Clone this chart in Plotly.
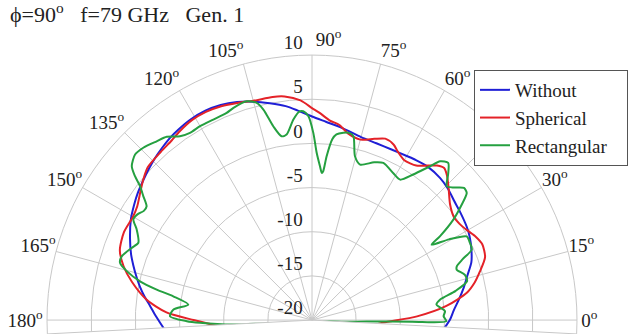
import plotly.graph_objects as go

# ---------------- data ----------------
title_text = "ϕ=90<sup>o</sup>" + "\u00a0" * 3 + "f=79 GHz" + "\u00a0" * 3 + "Gen. 1"

series_names = ["Without", "Spherical", "Rectangular"]
series_colors = ["#1f1fd6", "#e42228", "#25a040"]

theta_without = [-8, -5, 0, 4, 8, 12, 16, 20, 24, 28, 31, 36, 40, 44, 48, 53, 57, 60, 65, 70, 75, 81, 86,
                 90, 94, 97, 101, 105, 109, 113, 117, 121, 125, 128, 131, 134, 137, 140, 144, 147, 151,
                 156, 160, 163, 166, 169, 172, 175, 178, 181, 185, 188]
r_without = [-6.0, -5.3, -4.4, -3.9, -3.2, -2.45, -1.7, -0.8, -0.25, 0.2, 0.45, 0.75, 1.0, 1.4, 1.65, 1.75,
             1.6, 1.45, 1.3, 1.3, 1.45, 2.0, 2.5, 3.05, 3.8, 4.4, 5.0, 5.6, 6.1, 6.45, 6.6, 6.55, 6.35,
             6.15, 5.85, 5.55, 5.2, 4.85, 4.4, 4.0, 3.45, 2.55, 1.8, 1.15, 0.5, -0.15, -0.85, -1.6, -2.2,
             -2.8, -3.5, -4.0]

theta_spherical = [-10, -6, -2, 2, 6, 10, 13, 16, 20, 24, 27, 30, 33, 36, 40, 44, 47, 49, 51, 54, 56, 60,
                   63, 65, 68, 71, 75, 79, 82, 85, 88, 90, 93, 97, 100, 105, 109, 113, 117, 121, 125,
                   128, 132, 137, 140, 143, 147, 150, 155, 160, 164, 168, 173, 177, 180, 183, 186, 189]
r_spherical = [-15.0, -13.5, -11.9, -8.1, -4.7, -2.2, -1.1, -0.25, 0.85, 1.1, 0.8, 0.3, -0.05, -0.15,
               0.4, 1.5, 2.4, 2.8, 2.5, 1.6, 1.1, 0.9, 1.4, 1.9, 2.15, 1.7, 1.15, 1.5, 2.3, 2.7, 3.5,
               4.0, 4.9, 5.5, 5.65, 5.7, 6.0, 6.3, 6.45, 6.4, 6.1, 5.8, 5.6, 5.4, 4.9, 4.3, 3.6, 3.4,
               3.5, 3.15, 2.2, 0.85, -1.15, -3.5, -6.6, -9.0, -11.5, -13.0]

theta_rectangular = [-8.5, -7.4, -6, -3, -1.6, -0.9, -0.5, 1.7, 3.8, 5.5, 7.1, 9.1, 11.5, 14.1, 16.5,
                     19.2, 20.4, 22, 23.8, 26, 28.4, 30.5, 32.2, 33.2, 35.4, 37.5, 39.4, 41, 43, 44.8,
                     47, 49.1, 51.1, 52.5, 55.2, 57.9, 61, 65.6, 68.5, 72.8, 75.3, 77.3, 78.8, 80.5,
                     82.5, 83.6, 84.9, 85.7, 86.2, 87, 88.4, 89.6, 91, 92.4, 93.5, 95.3, 97.8, 99.4,
                     101.3, 103, 104.3, 106.6, 110.3, 112.4, 116.2, 120, 123.1, 125.7, 128.4, 131,
                     134.4, 136.9, 139.5, 140.9, 142.1, 143.7, 145.5, 147, 148.8, 150.6, 152.7, 156,
                     158.2, 161.5, 163.4, 165.2, 167.3, 168.9, 170.3, 172.9, 175.7, 178.5, 180.5,
                     181.4, 183.3, 184.6, 186.2, 188.5]
r_rectangular = [-11.0, -16.0, -18.7, -16.3, -13.8, -8.7, -4.8, -5.1, -4.9, -5.4, -5.8, -5.3, -3.4,
                 -1.9, -1.95, -2.65, -2.5, -1.6, -0.24, -0.1, -0.1, -2.0, -4.0, -2.7, -0.37, 1.3,
                 2.67, 2.8, 2.0, 1.5, 2.6, 3.55, 3.1, 1.95, 0.07, -1.23, -1.0, -0.46, -0.8, -1.58,
                 -0.83, 1.33, 1.6, 1.5, 1.2, 0.6, -1.38, -3.1, -3.3, -2.6, -1.06, 1.19, 3.07, 3.66,
                 3.65, 2.8, 1.19, 1.09, 2.38, 4.46, 5.37, 5.85, 5.62, 5.36, 5.3, 5.34, 5.29, 5.62,
                 6.47, 6.81, 7.3, 7.43, 6.83, 5.82, 4.67, 3.7, 2.72, 2.7, 3.1, 3.21, 2.33, 1.52,
                 1.99, 2.72, 2.68, 1.69, -0.04, -2.08, -4.07, -5.89, -4.25, -3.92, -5.82, -7.3,
                 -11.05, -15.6, -12.1, -9.0]

angle_ticks = list(range(0, 181, 15))
angle_labels = [f"{a}<sup>o</sup>" for a in angle_ticks]
radial_ticks = [-20, -15, -10, -5, 0, 5, 10]
radial_labels = [str(v) for v in radial_ticks]

# ---------------- figure ----------------
FONT = "Liberation Serif"
GRID = "#c8c8c8"
TXT = "#222222"

# the 90 deg label sits to the right of the vertical grid line
angle_text = [("\u00a0" * 7 + t) if a == 90 else t for a, t in zip(angle_ticks, angle_labels)]
inner_ticks = [a for a in angle_ticks if a not in (0, 180)]
inner_text = [t for a, t in zip(angle_ticks, angle_text) if a not in (0, 180)]
main_text = [t if a in (0, 180) else "" for a, t in zip(angle_ticks, angle_text)]

thetas = [theta_without, theta_spherical, theta_rectangular]
rs = [r_without, r_spherical, r_rectangular]

fig = go.Figure()
for name, th, rr, col in zip(series_names, thetas, rs, series_colors):
    fig.add_trace(go.Scatterpolar(
        theta=th, r=rr, mode="lines", name=name + "\u00a0\u00a0\u00a0",
        line=dict(color=col, width=2, shape="spline", smoothing=0.7),
        cliponaxis=False,
    ))
# empty traces hosting the label layers
fig.add_trace(go.Scatterpolar(theta=[], r=[], subplot="polar2", showlegend=False, hoverinfo="skip"))
fig.add_trace(go.Scatterpolar(theta=[], r=[], subplot="polar3", showlegend=False, hoverinfo="skip"))

# ---- geometry (pixels) ----
W, H = 628, 334
SIZE_W, SIZE_H = 530, 279          # bounding box of the polar sector
MAIN_X0, MAIN_Y0 = 47, 55          # top-left of main polar box
RAD_DX, RAD_DY = 6, 12             # radial label layer offset (left, up)
ANG_DY = 5                         # angular label layer offset (up)
L, T = MAIN_X0 - RAD_DX, MAIN_Y0 - RAD_DY
R, B = W - (MAIN_X0 + SIZE_W), 0
PW, PH = W - L - R, H - T - B


def dom(x0, y0):
    return dict(x=[(x0 - L) / PW, (x0 + SIZE_W - L) / PW],
                y=[(H - B - (y0 + SIZE_H)) / PH, (H - B - y0) / PH])


common_sector = [-3, 183]
tick_font = dict(family=FONT, size=19, color=TXT)

fig.update_layout(
    width=W, height=H,
    margin=dict(l=L, r=R, t=T, b=B),
    paper_bgcolor="white",
    font=dict(family=FONT, size=19, color=TXT),
    title=dict(text=title_text, x=10 / W, xanchor="left", y=1 - 7 / H, yanchor="top",
               font=dict(family=FONT, size=22, color=TXT)),
    showlegend=True,
    legend=dict(x=(474 - L) / PW, y=(H - 70) / PH, xanchor="left", yanchor="top",
                bgcolor="white", bordercolor="#555555", borderwidth=1,
                font=dict(family=FONT, size=19, color=TXT)),
    polar=dict(
        domain=dom(MAIN_X0, MAIN_Y0),
        sector=common_sector,
        bgcolor="white",
        angularaxis=dict(
            rotation=0, direction="counterclockwise",
            tickmode="array", tickvals=angle_ticks, ticktext=main_text,
            showgrid=True, gridcolor=GRID, gridwidth=1,
            showline=True, linecolor=GRID, linewidth=1, ticks="",
            tickfont=tick_font,
        ),
        radialaxis=dict(
            range=[-20, 10], tickmode="array", tickvals=radial_ticks,
            angle=90, showticklabels=False,
            showgrid=True, gridcolor=GRID, gridwidth=1, showline=False, ticks="",
        ),
    ),
    polar3=dict(
        domain=dom(MAIN_X0, MAIN_Y0 - ANG_DY),
        sector=common_sector,
        bgcolor="rgba(0,0,0,0)",
        angularaxis=dict(
            rotation=0, direction="counterclockwise",
            tickmode="array", tickvals=inner_ticks, ticktext=inner_text,
            showgrid=False, showline=False, ticks="",
            tickfont=tick_font,
        ),
        radialaxis=dict(visible=False, range=[-20, 10]),
    ),
    polar2=dict(
        domain=dom(MAIN_X0 - RAD_DX, MAIN_Y0 - RAD_DY),
        sector=common_sector,
        bgcolor="rgba(0,0,0,0)",
        angularaxis=dict(visible=False, rotation=0, direction="counterclockwise"),
        radialaxis=dict(
            range=[-20, 10], tickmode="array", tickvals=radial_ticks, ticktext=radial_labels,
            angle=90, side="counterclockwise", tickangle=90,
            showgrid=False, showline=False, ticks="",
            tickfont=tick_font,
        ),
    ),
)

fig.write_html("out.html")
